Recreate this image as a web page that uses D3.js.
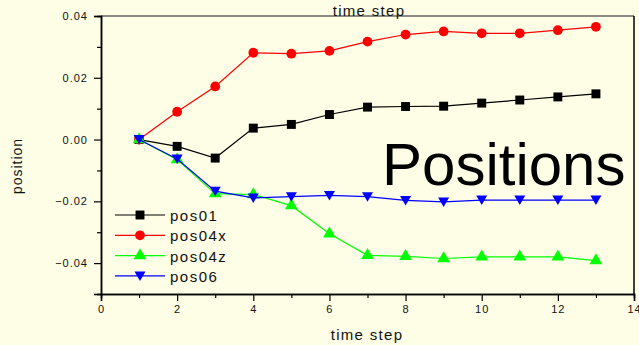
<!DOCTYPE html>
<html>
<head>
<meta charset="utf-8">
<script src="https://cdn.jsdelivr.net/npm/d3@7"></script>
<style>
  body { margin: 0; background: #fefee6; }
  svg { display: block; font-family: "Liberation Sans", Arial, sans-serif; }
</style>
</head>
<body>
<svg id="canvas"></svg>
<script>
let steps = [1, 2, 3, 4, 5, 6, 7, 8, 9, 10, 11, 12, 13];
let pos01 = [0, -0.0022, -0.006, 0.0037, 0.0049, 0.0081, 0.0105, 0.0107, 0.0108, 0.0118, 0.0128, 0.0138, 0.0148];
let pos04x = [0, 0.009, 0.0172, 0.0281, 0.0278, 0.0287, 0.0317, 0.034, 0.035, 0.0344, 0.0344, 0.0354, 0.0365];
let pos04z = [0, -0.0065, -0.0175, -0.0178, -0.0214, -0.0305, -0.0375, -0.0378, -0.0385, -0.038, -0.038, -0.038, -0.0392];
let pos06 = [0, -0.0063, -0.0167, -0.0189, -0.0185, -0.0181, -0.0185, -0.0197, -0.0202, -0.0196, -0.0196, -0.0196, -0.0196];

let xTicks = [0, 2, 4, 6, 8, 10, 12, 14];
let yTicks = [-0.04, -0.02, 0.0, 0.02, 0.04];

let series = [
  { name: "pos01", values: pos01, color: "#000000", symbol: d3.symbolSquare },
  { name: "pos04x", values: pos04x, color: "#ff0000", symbol: d3.symbolCircle },
  { name: "pos04z", values: pos04z, color: "#00ff00", symbol: d3.symbolTriangle },
  { name: "pos06", values: pos06, color: "#0000ff", symbol: "down" }
];

let width = 639,
  height = 345;
let padLeft = 101, padRight = 634, padTop = 16, padBottom = 294;

let canvas = d3.select("#canvas").attr("width", width).attr("height", height);

let xScale = d3.scaleLinear().domain([0, 14]).range([padLeft, padRight]);
let yScale = d3.scaleLinear().domain([-0.05, 0.04]).range([padBottom, padTop]);

// frame: top gray, right black
canvas.append("line").attr("x1", padLeft).attr("x2", padRight).attr("y1", padTop).attr("y2", padTop)
  .attr("stroke", "#666").attr("stroke-width", 1.5);
canvas.append("line").attr("x1", padRight).attr("x2", padRight).attr("y1", padTop).attr("y2", padBottom)
  .attr("stroke", "#000").attr("stroke-width", 1.5);

// minor ticks
let xAxisMinor = d3.axisBottom(xScale).tickValues(d3.range(1, 14, 2)).tickSize(4).tickFormat("");
let yAxisMinor = d3.axisLeft(yScale).tickValues([-0.05, -0.03, -0.01, 0.01, 0.03]).tickSize(4).tickFormat("");
canvas.append("g").attr("transform", "translate(0," + padBottom + ")").call(xAxisMinor);
canvas.append("g").attr("transform", "translate(" + padLeft + ",0)").call(yAxisMinor);

let xAxis = d3.axisBottom(xScale).tickValues(xTicks).tickSize(7).tickPadding(4).tickFormat(d3.format("d"));
let yAxis = d3.axisLeft(yScale).tickValues(yTicks).tickSize(7).tickPadding(6).tickFormat(d3.format(".2f"));

canvas.append("g").attr("id", "x-axis").attr("transform", "translate(0," + padBottom + ")").call(xAxis);
canvas.append("g").attr("id", "y-axis").attr("transform", "translate(" + padLeft + ",0)").call(yAxis);

canvas.selectAll(".domain").attr("stroke", "#000").attr("stroke-width", 1.5);
canvas.selectAll(".tick line").attr("stroke", "#000").attr("stroke-width", 1.2);
canvas.selectAll(".tick text").attr("fill", "#111").style("font-size", "11px").style("letter-spacing", "1px")
  .style("font-family", "'Liberation Sans', Arial, sans-serif");

let symbolPath = (s) => {
  if (s === "down") {
    return "M-5.5,-4.5L5.5,-4.5L0,5z";
  }
  return d3.symbol().type(s).size(s === d3.symbolCircle ? 75 : s === d3.symbolSquare ? 80 : 70)();
};

let line = d3.line().x((d) => xScale(d[0])).y((d) => yScale(d[1]));

series.forEach((s) => {
  let pts = steps.map((t, i) => [t, s.values[i]]);
  canvas.append("path").datum(pts).attr("d", line).attr("fill", "none")
    .attr("stroke", s.color).attr("stroke-width", 1.2);
  canvas.append("g").selectAll("path").data(pts).enter().append("path")
    .attr("d", symbolPath(s.symbol))
    .attr("transform", (d) => "translate(" + xScale(d[0]) + "," + yScale(d[1]) + ")")
    .attr("fill", s.color);
});

// legend
let legend = canvas.append("g").attr("transform", "translate(115,215)");
series.forEach((s, i) => {
  let g = legend.append("g").attr("transform", "translate(0," + i * 20.3 + ")");
  g.append("line").attr("x1", 0).attr("x2", 50).attr("stroke", s.color).attr("stroke-width", 1.2);
  g.append("path").attr("d", symbolPath(s.symbol)).attr("transform", "translate(25,0)").attr("fill", s.color);
  g.append("text").attr("x", 55).attr("y", 6).text(s.name)
    .style("font-size", "15px").style("letter-spacing", "1.5px").attr("fill", "#111");
});

// titles
canvas.append("text").attr("x", 369).attr("y", 16).attr("text-anchor", "middle")
  .style("font-size", "15px").style("letter-spacing", "1.3px").attr("fill", "#111").text("time step");
canvas.append("text").attr("x", 367).attr("y", 340).attr("text-anchor", "middle")
  .style("font-size", "15px").style("letter-spacing", "1.3px").attr("fill", "#111").text("time step");
canvas.append("text").attr("transform", "translate(22,166) rotate(-90)").attr("text-anchor", "middle")
  .style("font-size", "14px").style("letter-spacing", "1px").attr("fill", "#111").text("position");

canvas.append("text").attr("x", 382).attr("y", 185)
  .style("font-size", "60px").attr("fill", "#000").text("Positions");
</script>
</body>
</html>
